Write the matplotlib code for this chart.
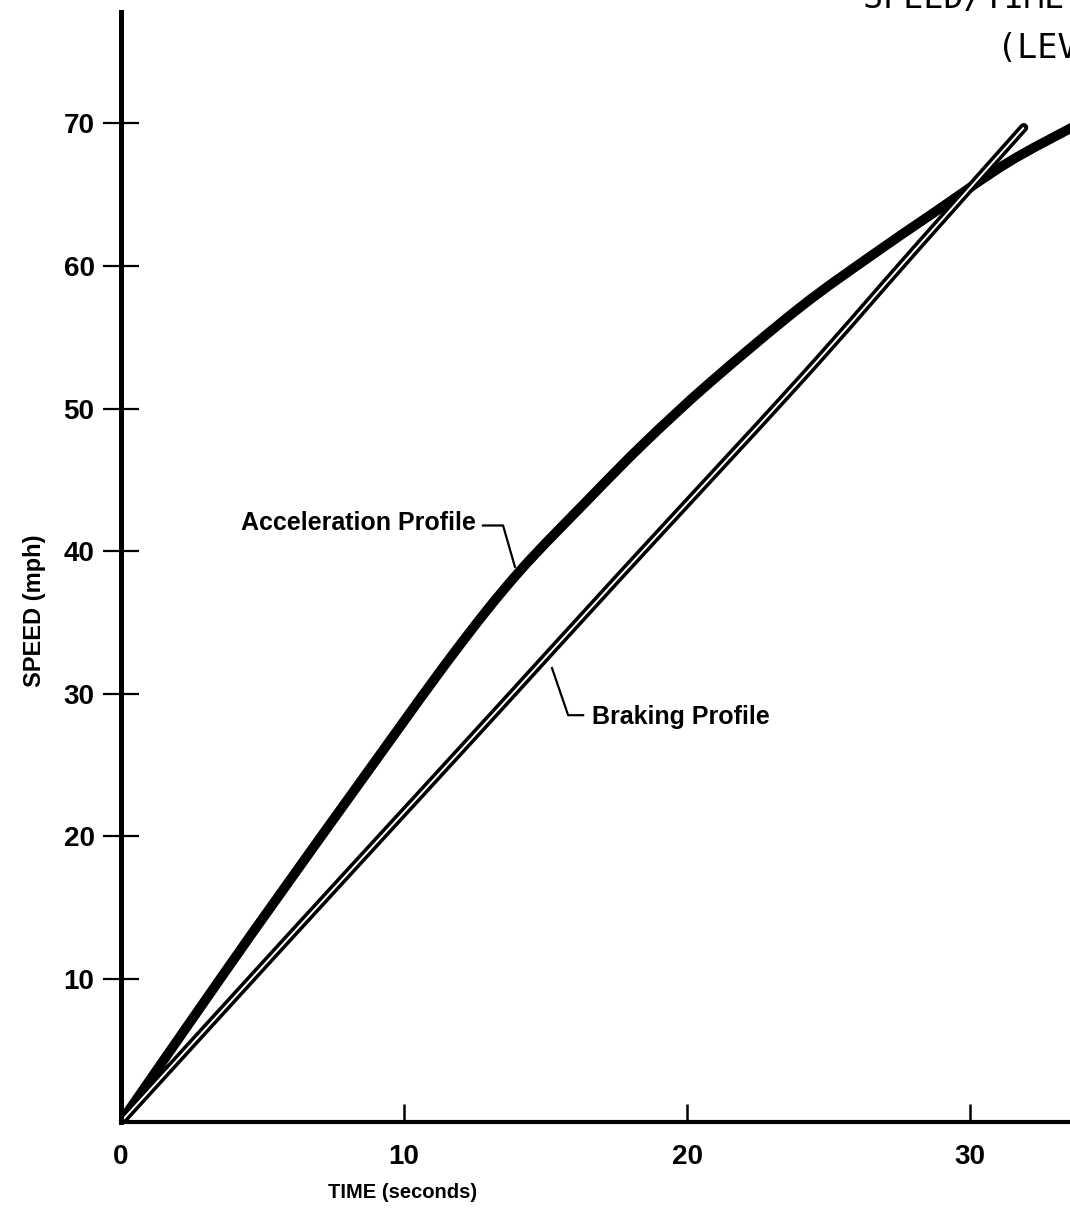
import matplotlib
matplotlib.use("Agg")
import matplotlib.pyplot as plt
from matplotlib.path import Path
from matplotlib.patches import PathPatch

# --- data (time in s, speed in mph) ---
accel_t = [0, 3.5, 5.6, 8.45, 11.7, 14.0, 16.5, 18.5, 20.8, 24.0, 26.5, 28.7, 31.3, 33.6]
accel_v = [0, 10.0, 15.9, 23.8, 32.7, 38.4, 43.6, 47.6, 51.8, 57.1, 60.7, 63.7, 67.2, 69.7]

brake_t = [0, 5.7, 10.6, 13.6, 17.6, 24.0, 28.0, 31.9]
brake_v = [0, 12.4, 23.0, 29.5, 38.2, 52.0, 61.0, 69.7]

x_ticks = [0, 10, 20, 30]
y_ticks = [10, 20, 30, 40, 50, 60, 70]


def smooth_path(xs, ys):
    # Catmull-Rom through the read points, drawn as cubic Bezier segments
    pts = list(zip(xs, ys))
    verts = [pts[0]]
    codes = [Path.MOVETO]
    for i in range(len(pts) - 1):
        p0 = pts[i - 1] if i > 0 else pts[i]
        p1 = pts[i]
        p2 = pts[i + 1]
        p3 = pts[i + 2] if i + 2 < len(pts) else pts[i + 1]
        c1 = (p1[0] + (p2[0] - p0[0]) / 6, p1[1] + (p2[1] - p0[1]) / 6)
        c2 = (p2[0] - (p3[0] - p1[0]) / 6, p2[1] - (p3[1] - p1[1]) / 6)
        verts += [c1, c2, p2]
        codes += [Path.CURVE4] * 3
    return Path(verts, codes)


W, H = 1070, 1213
fig = plt.figure(figsize=(W / 100, H / 100), dpi=100)
plt.rcParams['font.family'] = ['Liberation Sans', 'DejaVu Sans']

ax = fig.add_axes([121 / W, (H - 1121.7) / H, (W - 121) / W, (1121.7 - 12) / H])
ax.set_xlim(0, (W - 121) / 28.3)
ax.set_ylim(0, 77.8)

# acceleration: one heavy line
ax.add_patch(PathPatch(smooth_path(accel_t, accel_v), facecolor='none', edgecolor='black',
                       linewidth=7.0, capstyle='round', joinstyle='round'))
# braking: double line (black with thin white core)
bp = smooth_path(brake_t, brake_v)
ax.add_patch(PathPatch(bp, facecolor='none', edgecolor='black', linewidth=6.5,
                       capstyle='round', joinstyle='round'))
ax.add_patch(PathPatch(bp, facecolor='none', edgecolor='white', linewidth=1.4,
                       capstyle='butt', joinstyle='round'))

for s in ['top', 'right']:
    ax.spines[s].set_visible(False)
ax.spines['left'].set_linewidth(3.6)
ax.spines['bottom'].set_linewidth(3.0)

ax.set_xticks(x_ticks)
ax.set_yticks(y_ticks)
ax.tick_params(axis='y', direction='inout', length=26, width=1.6, pad=6, labelsize=20)
ax.tick_params(axis='x', direction='in', length=13, width=1.8, pad=16, labelsize=20)
for lab in ax.get_xticklabels() + ax.get_yticklabels():
    lab.set_fontweight('bold')

ax.set_xlabel("TIME (seconds)", fontsize=14.5, fontweight='bold')
ax.set_ylabel("SPEED (mph)", fontsize=17, fontweight='bold')
ax.xaxis.set_label_coords((403 - 121) / (W - 121), -(1193 - 1121.7) / (1121.7 - 12))
ax.yaxis.set_label_coords(-(121 - 35) / (W - 121), (1121.7 - 611) / (1121.7 - 12))
ax.xaxis.label.set_va('center')
ax.yaxis.label.set_va('center')

# curve labels with leader lines
ax.text(12.55, 41.95, "Acceleration Profile", ha='right', va='center', fontsize=18, fontweight='bold')
ax.plot([12.79, 13.5, 13.92], [41.8, 41.8, 38.9], color='black', linewidth=1.6)
ax.text(16.64, 28.4, "Braking Profile", ha='left', va='center', fontsize=18, fontweight='bold')
ax.plot([15.23, 15.8, 16.33], [31.8, 28.5, 28.5], color='black', linewidth=1.6)

# title, cut off by the page edge as in the source scan
fig.text(863 / W, 1 - 8 / H, "SPEED/TIME CURVES", ha='left', va='baseline',
         family='DejaVu Sans Mono', fontsize=24)
fig.text(997 / W, 1 - 58 / H, "(LEVEL TRACK)", ha='left', va='baseline',
         family='DejaVu Sans Mono', fontsize=24)

fig.savefig("out.png", dpi=100)
